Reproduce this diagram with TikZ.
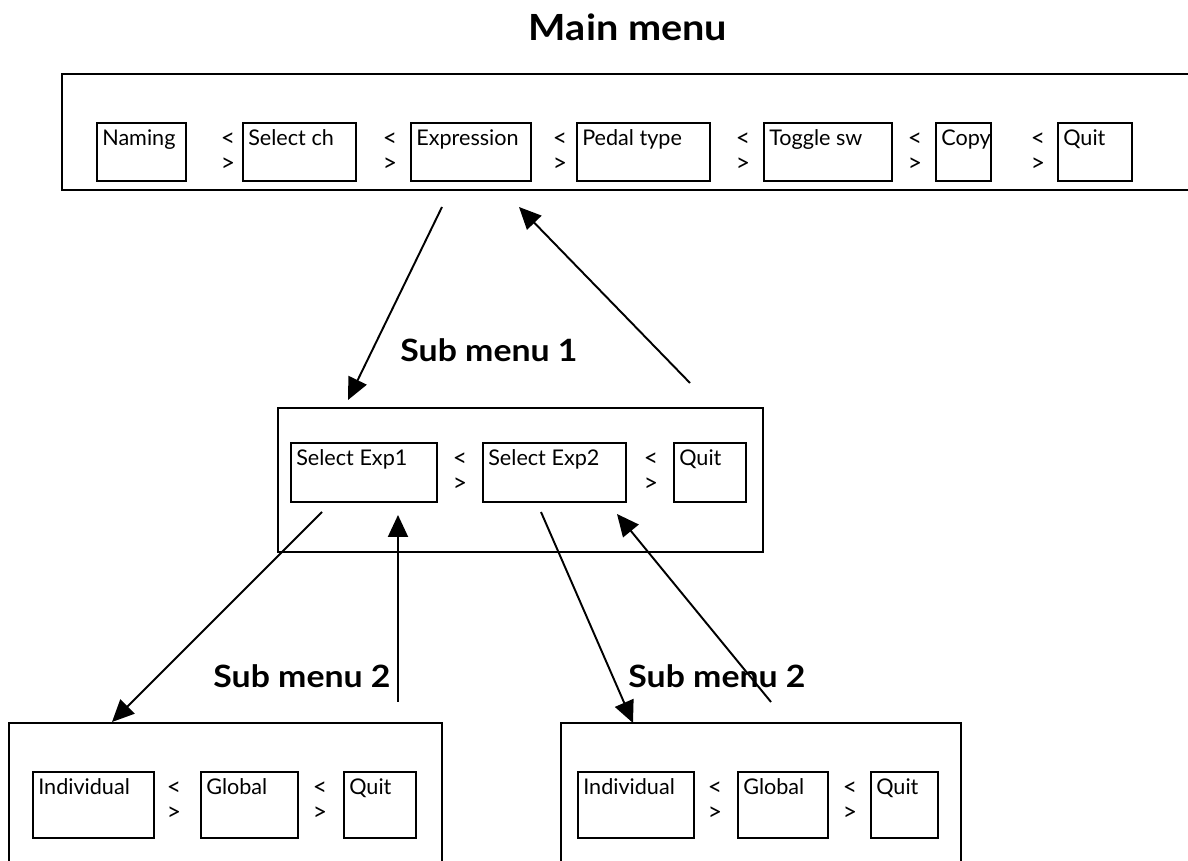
\documentclass[tikz,border=0pt]{standalone}
\usepackage{fontspec}
\setmainfont{Lato}
\newfontfamily\headfont[FakeStretch=1.1]{Lato Bold}
\usetikzlibrary{positioning,fit,arrows.meta}

\begin{document}
\begin{tikzpicture}
    [
    x=0.02cm, y=-0.02cm,
    frame/.style={draw,line width=1.4pt,inner sep=0pt},
    item/.style={draw,line width=1.2pt,inner sep=0pt},
    lbl/.style={anchor=north west,inner sep=0pt,xshift=0.12cm,yshift=-0.15cm,font=\fontsize{12.3}{14}\selectfont},
    sw/.style={align=center,inner sep=0pt,font=\fontsize{14}{14.5}\selectfont},
    title/.style={anchor=base,font=\fontsize{17.5}{20}\headfont},
    link/.style={-{Triangle[length=4.4mm,width=4mm]},line width=1.1pt},
    ]
    \useasboundingbox (0,0) rectangle (1188,861);
    \clip (0,0) rectangle (1188,861);

    % main menu
    \node (maintitle) at (628,41) [title, font=\fontsize{20.5}{24}\headfont] {Main menu};
    \node (mainbox) [frame, fit={(62,74) (1210,190)}] {};
    \node (naming) [item, fit={(97,123) (186,181)}, label={[lbl]north west:Naming}] {};
    \node (selch) [item, fit={(243,123) (356,181)}, label={[lbl]north west:Select ch}] {};
    \node (expr) [item, fit={(411,123) (531,181)}, label={[lbl]north west:Expression}] {};
    \node (pedal) [item, fit={(577,123) (710,181)}, label={[lbl]north west:Pedal type}] {};
    \node (toggle) [item, fit={(764,123) (892,181)}, label={[lbl]north west:Toggle sw}] {};
    \node (copy) [item, fit={(936,123) (991,181)}, label={[lbl]north west:Copy}] {};
    \node (mquit) [item, fit={(1058,123) (1132,181)}, label={[lbl]north west:Quit}] {};
    \node (m1) at (228,152) [sw] {<\\>};
    \node (m2) at (390,152) [sw] {<\\>};
    \node (m3) at (560,152) [sw] {<\\>};
    \node (m4) at (743,152) [sw] {<\\>};
    \node (m5) at (915,152) [sw] {<\\>};
    \node (m6) at (1038,152) [sw] {<\\>};

    % sub menu 1
    \node (subtitle) at (489,362) [title] {Sub menu 1};
    \node (subbox) [frame, fit={(278,408) (763,552)}] {};
    \node (exp1) [item, fit={(291,443) (437,502)}, label={[lbl]north west:Select Exp1}] {};
    \node (exp2) [item, fit={(483,443) (626,502)}, label={[lbl]north west:Select Exp2}] {};
    \node (squit) [item, fit={(674,443) (746,502)}, label={[lbl]north west:Quit}] {};
    \node (s1) at (460,472) [sw] {<\\>};
    \node (s2) at (651,472) [sw] {<\\>};

    % sub menu 2, left
    \node (lefttitle) at (302,688) [title] {Sub menu 2};
    \node (leftbox) [frame, fit={(9,723) (442,900)}] {};
    \node (lind) [item, fit={(33,772) (154,838)}, label={[lbl]north west:Individual}] {};
    \node (lglob) [item, fit={(201,772) (298,838)}, label={[lbl]north west:Global}] {};
    \node (lquit) [item, fit={(344,772) (416,838)}, label={[lbl]north west:Quit}] {};
    \node (l1) at (174,801) [sw] {<\\>};
    \node (l2) at (320,801) [sw] {<\\>};

    % sub menu 2, right
    \node (righttitle) at (717,688) [title] {Sub menu 2};
    \node (rightbox) [frame, fit={(561,723) (961,900)}] {};
    \node (rind) [item, fit={(578,772) (694,838)}, label={[lbl]north west:Individual}] {};
    \node (rglob) [item, fit={(738,772) (828,838)}, label={[lbl]north west:Global}] {};
    \node (rquit) [item, fit={(871,772) (938,838)}, label={[lbl]north west:Quit}] {};
    \node (r1) at (715,801) [sw] {<\\>};
    \node (r2) at (850,801) [sw] {<\\>};

    % links
    \coordinate (down1) at (442,207);
    \coordinate (down1e) at (348,400);
    \coordinate (up1) at (690,383);
    \coordinate (up1e) at (519,207);
    \coordinate (down2) at (322,512);
    \coordinate (down2e) at (112,722);
    \coordinate (up2) at (398,702);
    \coordinate (up2e) at (398,515);
    \coordinate (down3) at (541,512);
    \coordinate (down3e) at (633,723);
    \coordinate (up3) at (771,702);
    \coordinate (up3e) at (617,514);
    \draw [link] (down1) to (down1e);
    \draw [link] (up1) to (up1e);
    \draw [link] (down2) to (down2e);
    \draw [link] (up2) to (up2e);
    \draw [link] (down3) to (down3e);
    \draw [link] (up3) to (up3e);
\end{tikzpicture}
\end{document}
